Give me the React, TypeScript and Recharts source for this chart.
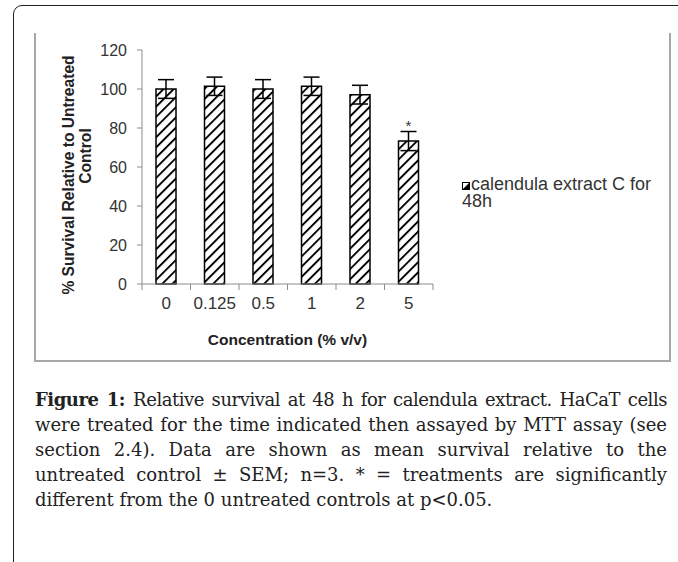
import React from "react";
import { BarChart, Bar, XAxis, YAxis, ErrorBar, LabelList } from "recharts";

const concentrations = ["0", "0.125", "0.5", "1", "2", "5"];
const survival = [100, 101.4, 100, 101.4, 97.1, 73.3];
const sem = [4.8, 4.7, 4.8, 4.7, 4.8, 4.9];
const significance = ["", "", "", "", "", "*"];
const yTicks = [0, 20, 40, 60, 80, 100, 120];

const seriesName = "calendula extract C for 48h";
const xTitle = "Concentration (% v/v)";
const yTitle = ["% Survival Relative to Untreated", "Control"];

// caption lines, broken where the figure breaks them
const captionLines = [
	"Relative survival at 48 h for calendula extract. HaCaT cells",
	"were treated for the time indicated then assayed by MTT assay (see",
	"section 2.4). Data are shown as mean survival relative to the",
	"untreated control ± SEM; n=3. * = treatments are significantly",
	"different from the 0 untreated controls at p<0.05.",
];

const data = concentrations.map((c, i) => ({
	conc: c,
	value: survival[i],
	err: sem[i],
	sig: significance[i],
}));

const axisFont = "'Liberation Sans', Arial, sans-serif";
const axisGray = "#8c8c8c";

// excel style: tick marks between categories, label in the middle
const CategoryTick = (props: any) => {
	const { x, y, payload, index, visibleTicksCount } = props;
	const half = payload && payload.offset ? payload.offset : 24.3;
	const axisY = y - 14;
	const isLast = index === visibleTicksCount - 1;
	return (
		<g>
			<line x1={x - half} y1={axisY} x2={x - half} y2={axisY + 6} stroke={axisGray} />
			{isLast && <line x1={x + half} y1={axisY} x2={x + half} y2={axisY + 6} stroke={axisGray} />}
			<text x={x} y={y - 1} dy="0.71em" textAnchor="middle" fontSize={17} fill="#333" fontFamily={axisFont}>
				{payload.value}
			</text>
		</g>
	);
};

const ValueTick = (props: any) => {
	const { x, y, payload } = props;
	return (
		<text x={x} y={y} dy="0.355em" textAnchor="end" fontSize={16} fill="#333" fontFamily={axisFont}>
			{payload.value}
		</text>
	);
};

const YTitle = (props: any) => {
	const vb = props.viewBox;
	const cy = vb.y + vb.height / 2;
	const x1 = 33;
	const x2 = 50;
	return (
		<g fontFamily={axisFont} fontWeight="bold" fontSize={15.6} fill="#222">
			<text x={x1} y={cy + 8} textAnchor="middle" dominantBaseline="central" transform={`rotate(-90, ${x1}, ${cy + 8})`}>
				{yTitle[0]}
			</text>
			<text x={x2} y={cy - 11} textAnchor="middle" dominantBaseline="central" transform={`rotate(-90, ${x2}, ${cy - 11})`}>
				{yTitle[1]}
			</text>
		</g>
	);
};

const XTitle = (props: any) => {
	const vb = props.viewBox;
	return (
		<text
			x={vb.x + vb.width / 2}
			y={vb.y + 55}
			textAnchor="middle"
			dominantBaseline="central"
			fontFamily={axisFont}
			fontWeight="bold"
			fontSize={15.5}
			fill="#222"
		>
			{xTitle}
		</text>
	);
};

const App = () => {
	return (
		<div style={{ position: "absolute", left: 0, top: 0, width: 678, height: 562, background: "#fff", overflow: "hidden" }}>
			<div
				style={{
					position: "absolute",
					left: 13,
					top: 5,
					width: 720,
					height: 620,
					border: "1.5px solid #222",
					borderTopLeftRadius: 9,
				}}
			/>
			<div
				style={{
					position: "absolute",
					left: 34,
					top: 33,
					width: 633,
					height: 327,
					borderLeft: "2px solid #a8a8a8",
					borderRight: "2px solid #a8a8a8",
					borderBottom: "2px solid #a8a8a8",
				}}
			/>
			<div style={{ position: "absolute", left: 35, top: 33 }}>
				<BarChart width={634} height={330} data={data} margin={{ top: 17, right: 236, bottom: 0, left: 0 }}>
					<defs>
						<pattern id="hatch" width="7.2" height="7.2" patternUnits="userSpaceOnUse" patternTransform="rotate(45)">
							<rect width="7.2" height="7.2" fill="#fff" />
							<line x1="0" y1="0" x2="0" y2="7.2" stroke="#000" strokeWidth="3.8" />
						</pattern>
					</defs>
					<XAxis
						dataKey="conc"
						height={79}
						stroke={axisGray}
						tickSize={6}
						tickMargin={8}
						tickLine={false}
						interval={0}
						tick={<CategoryTick />}
						label={{ content: <XTitle /> }}
					/>
					<YAxis
						width={107}
						domain={[0, 120]}
						ticks={yTicks}
						stroke={axisGray}
						tickSize={5}
						tickMargin={10}
						tick={<ValueTick />}
						label={{ content: <YTitle /> }}
					/>
					<Bar dataKey="value" barSize={20} fill="url(#hatch)" stroke="#000" strokeWidth={1.5} isAnimationActive={false}>
						<ErrorBar dataKey="err" width={8} stroke="#000" strokeWidth={1.5} direction="y" />
						<LabelList dataKey="sig" position="top" offset={10} fontSize={15} fill="#333" fontFamily={axisFont} />
					</Bar>
				</BarChart>
			</div>
			<div
				style={{
					position: "absolute",
					left: 462,
					top: 176,
					width: 205,
					fontFamily: axisFont,
					fontSize: 18,
					lineHeight: "17px",
					color: "#333",
				}}
			>
				<svg width={8} height={8} style={{ marginRight: 1, verticalAlign: "baseline" }}>
					<rect x={0.5} y={0.5} width={7} height={7} fill="#fff" stroke="#000" />
					<polygon points="7.5,0.5 7.5,7.5 0.5,7.5" fill="#000" />
				</svg>
				{seriesName}
			</div>
			<div
				style={{
					position: "absolute",
					left: 35,
					top: 387,
					width: 632,
					fontFamily: "'DejaVu Serif', serif",
					fontSize: 18,
					lineHeight: "25px",
					color: "#222",
				}}
			>
				{captionLines.map((line, i) => (
					<div
						key={i}
						style={{
							whiteSpace: "nowrap",
							textAlign: "justify",
							textAlignLast: i < captionLines.length - 1 ? "justify" : "left",
							letterSpacing: i === 0 ? "-0.45px" : 0,
						}}
					>
						{i === 0 && <b>Figure 1: </b>}
						{line}
					</div>
				))}
			</div>
		</div>
	);
};

export default App;
